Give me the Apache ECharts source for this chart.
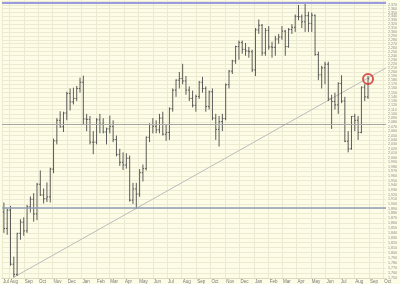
<!DOCTYPE html>
<html>
<head>
<meta charset="utf-8">
<script src="https://cdn.jsdelivr.net/npm/echarts@6/dist/echarts.min.js"></script>
<style>
html,body{margin:0;padding:0;background:#fdfde7;}
#chart{width:400px;height:284px;}
</style>
</head>
<body>
<div id="chart"></div>
<script>
// Weekly bars (mid-week date)
var weekDates = ['2004-07-21','2004-07-28','2004-08-04','2004-08-11','2004-08-18','2004-08-25','2004-09-01','2004-09-08','2004-09-15','2004-09-22','2004-09-29','2004-10-06','2004-10-13','2004-10-20','2004-10-27','2004-11-03','2004-11-10','2004-11-17','2004-11-24','2004-12-01','2004-12-08','2004-12-15','2004-12-22','2004-12-29','2005-01-05','2005-01-12','2005-01-19','2005-01-26','2005-02-02','2005-02-09','2005-02-16','2005-02-23','2005-03-02','2005-03-09','2005-03-16','2005-03-23','2005-03-30','2005-04-06','2005-04-13','2005-04-20','2005-04-27','2005-05-04','2005-05-11','2005-05-18','2005-05-25','2005-06-01','2005-06-08','2005-06-15','2005-06-22','2005-06-29','2005-07-06','2005-07-13','2005-07-20','2005-07-27','2005-08-03','2005-08-10','2005-08-17','2005-08-24','2005-08-31','2005-09-07','2005-09-14','2005-09-21','2005-09-28','2005-10-05','2005-10-12','2005-10-19','2005-10-26','2005-11-02','2005-11-09','2005-11-16','2005-11-23','2005-11-30','2005-12-07','2005-12-14','2005-12-21','2005-12-28','2006-01-04','2006-01-11','2006-01-18','2006-01-25','2006-02-01','2006-02-08','2006-02-15','2006-02-22','2006-03-01','2006-03-08','2006-03-15','2006-03-22','2006-03-29','2006-04-05','2006-04-12','2006-04-19','2006-04-26','2006-05-03','2006-05-10','2006-05-17','2006-05-24','2006-05-31','2006-06-07','2006-06-14','2006-06-21','2006-06-28','2006-07-05','2006-07-12','2006-07-19','2006-07-26','2006-08-02','2006-08-09','2006-08-16','2006-08-23','2006-08-30'];
var opens  = [1883,1849,1887,1777,1757,1839,1862,1844,1894,1910,1879,1942,1919,1911,1915,1975,2038,2085,2070,2102,2148,2128,2136,2160,2175,2088,2087,2035,2035,2086,2076,2058,2065,2071,2041,2007,1990,1984,1999,1908,1932,1921,1967,1976,2046,2075,2071,2063,2090,2053,2057,2112,2156,2180,2184,2178,2156,2136,2120,2141,2175,2160,2117,2152,2090,2064,2082,2089,2169,2202,2227,2263,2273,2256,2252,2250,2205,2305,2317,2247,2304,2262,2261,2282,2287,2302,2263,2306,2312,2340,2339,2326,2342,2322,2343,2243,2193,2210,2219,2135,2129,2121,2172,2130,2037,2020,2094,2085,2057,2163,2140];
var highs  = [1903,1890,1896,1792,1840,1868,1872,1898,1916,1923,1945,1972,1933,1946,1978,2043,2090,2106,2105,2152,2160,2162,2166,2186,2191,2100,2095,2060,2090,2100,2090,2068,2096,2085,2050,2020,2012,2010,2005,1945,1945,1975,1985,2048,2078,2090,2085,2100,2105,2075,2115,2160,2182,2200,2220,2190,2165,2155,2145,2178,2188,2165,2155,2160,2100,2095,2100,2172,2205,2230,2265,2278,2278,2272,2262,2255,2310,2332,2320,2310,2315,2275,2290,2295,2315,2305,2310,2320,2345,2370,2345,2375,2352,2350,2345,2250,2215,2225,2225,2145,2150,2175,2192,2140,2060,2095,2100,2095,2165,2170,2190];
var lows   = [1840,1836,1774,1751,1754,1826,1834,1840,1882,1863,1866,1917,1901,1904,1903,1966,2030,2068,2058,2085,2108,2122,2130,2150,2074,2060,2030,2008,2030,2055,2055,2030,2055,2035,2003,1982,1973,1976,1905,1900,1890,1915,1948,1972,2035,2055,2055,2055,2050,2038,2040,2105,2140,2160,2170,2145,2130,2115,2105,2135,2150,2105,2110,2085,2040,2025,2060,2085,2160,2195,2220,2230,2245,2240,2235,2200,2190,2295,2240,2240,2255,2235,2240,2270,2280,2240,2260,2295,2300,2330,2310,2300,2300,2300,2240,2180,2160,2170,2130,2065,2110,2100,2125,2035,2012,2018,2060,2040,2055,2130,2135];
var closes = [1849,1887,1777,1757,1839,1862,1844,1894,1910,1879,1942,1919,1911,1915,1975,2038,2085,2070,2102,2148,2128,2136,2160,2175,2088,2087,2035,2035,2086,2076,2058,2065,2071,2041,2007,1990,1984,1999,1908,1932,1921,1967,1976,2046,2075,2071,2063,2090,2053,2057,2112,2156,2180,2184,2178,2156,2136,2120,2141,2175,2160,2117,2152,2090,2064,2082,2089,2169,2202,2227,2263,2273,2256,2252,2250,2205,2305,2317,2247,2304,2262,2261,2282,2287,2302,2263,2306,2312,2340,2339,2326,2342,2322,2343,2243,2193,2210,2219,2135,2129,2121,2172,2130,2037,2020,2094,2085,2057,2163,2140,2183];

// Horizontal reference levels and trendline
var levelTop = 2375, levelMid = 2076, levelLow = 1891;
var trendDates = ['2004-08-12','2006-10-07'];
var trendValues = [1752, 2210];
var circleDate = '2006-08-30', circleValue = 2183;

// Axis ticks
var yTicks = [1750,1760,1770,1780,1790,1800,1810,1820,1830,1840,1850,1860,1870,1880,1890,1900,1910,1920,1930,1940,1950,1960,1970,1980,1990,2000,2010,2020,2030,2040,2050,2060,2070,2080,2090,2100,2110,2120,2130,2140,2150,2160,2170,2180,2190,2200,2210,2220,2230,2240,2250,2260,2270,2280,2290,2300,2310,2320,2330,2340,2350,2360,2370,2380];
var monthTicks = ['2004-07-17','2004-08-01','2004-09-01','2004-10-01','2004-11-01','2004-12-01','2005-01-01','2005-02-01','2005-03-01','2005-04-01','2005-05-01','2005-06-01','2005-07-01','2005-08-01','2005-09-01','2005-10-01','2005-11-01','2005-12-01','2006-01-01','2006-02-01','2006-03-01','2006-04-01','2006-05-01','2006-06-01','2006-07-01','2006-08-01','2006-09-01','2006-10-01'];
var monthNames = ['Jan','Feb','Mar','Apr','May','Jun','Jul','Aug','Sep','Oct','Nov','Dec'];
var xMin = '2004-07-17', xMax = '2006-10-07';

function ts(d){ return Date.parse(d + 'T00:00:00Z'); }

var bars = weekDates.map(function(d,i){ return [ts(d), opens[i], highs[i], lows[i], closes[i]]; });

var chart = echarts.init(document.getElementById('chart'), null, {renderer:'canvas'});
var gridColor = '#ecebd2';
chart.setOption({
  animation: false,
  backgroundColor: '#fdfde7',
  grid: {left: 0, right: 14, top: 0, bottom: 6},
  xAxis: {
    type: 'value',
    min: ts(xMin),
    max: ts(xMax),
    axisLine: {show: true, lineStyle: {color: '#dcdabc', width: 1}},
    axisTick: {show: false, customValues: monthTicks.map(ts)},
    axisLabel: {
      customValues: monthTicks.map(ts),
      showMinLabel: true,
      fontSize: 4.5, fontFamily: 'Liberation Sans, Arial, sans-serif', color: '#777',
      align: 'left', margin: 1, padding: [0,0,0,1],
      formatter: function(v){ return monthNames[new Date(v).getUTCMonth()]; }
    },
    splitLine: {show: true, lineStyle: {color: gridColor, width: 1}}
  },
  yAxis: {
    type: 'log',
    logBase: 10,
    position: 'right',
    min: 1750,
    max: 2383,
    axisLine: {show: false},
    axisTick: {show: false, customValues: yTicks},
    axisLabel: {
      customValues: yTicks,
      fontSize: 3.6, fontFamily: 'Liberation Sans, Arial, sans-serif', color: '#888',
      margin: 2,
      formatter: function(v){ var r = Math.round(v); return Math.floor(r/1000) + ',' + String(r%1000).padStart(3,'0'); }
    },
    splitLine: {show: true, lineStyle: {color: gridColor, width: 1}}
  },
  series: [
    {
      type: 'line',
      data: [[ts(trendDates[0]), trendValues[0]], [ts(trendDates[1]), trendValues[1]]],
      symbol: 'none',
      lineStyle: {color: '#bcbcbc', width: 1},
      silent: true,
      z: 2,
      markLine: {
        silent: true,
        symbol: 'none',
        label: {show: false},
        data: [
          {yAxis: levelTop, lineStyle: {color: '#9a9ade', width: 2, type: 'solid'}},
          {yAxis: levelMid, lineStyle: {color: '#a6a6a6', width: 1.2, type: 'solid'}},
          {yAxis: levelLow, lineStyle: {color: '#909cb6', width: 1.6, type: 'solid'}}
        ]
      }
    },
    {
      type: 'custom',
      data: bars,
      encode: {x: 0, y: [1,2,3,4]},
      z: 3,
      renderItem: function(params, api){
        var x = api.value(0);
        var pO = api.coord([x, api.value(1)]);
        var pH = api.coord([x, api.value(2)]);
        var pL = api.coord([x, api.value(3)]);
        var pC = api.coord([x, api.value(4)]);
        var st = {stroke: '#4a4a4a', lineWidth: 0.9};
        var t = 1.2;
        return {type: 'group', children: [
          {type: 'line', shape: {x1: pH[0], y1: pH[1], x2: pL[0], y2: pL[1]}, style: st},
          {type: 'line', shape: {x1: pO[0]-t, y1: pO[1], x2: pO[0], y2: pO[1]}, style: st},
          {type: 'line', shape: {x1: pC[0], y1: pC[1], x2: pC[0]+t, y2: pC[1]}, style: st}
        ]};
      }
    },
    {
      type: 'scatter',
      data: [[ts(circleDate), circleValue]],
      symbol: 'circle',
      symbolSize: 10,
      z: 4,
      itemStyle: {color: 'rgba(255,255,255,0)', borderColor: '#d42a2a', borderWidth: 2}
    }
  ]
});
</script>
</body>
</html>
